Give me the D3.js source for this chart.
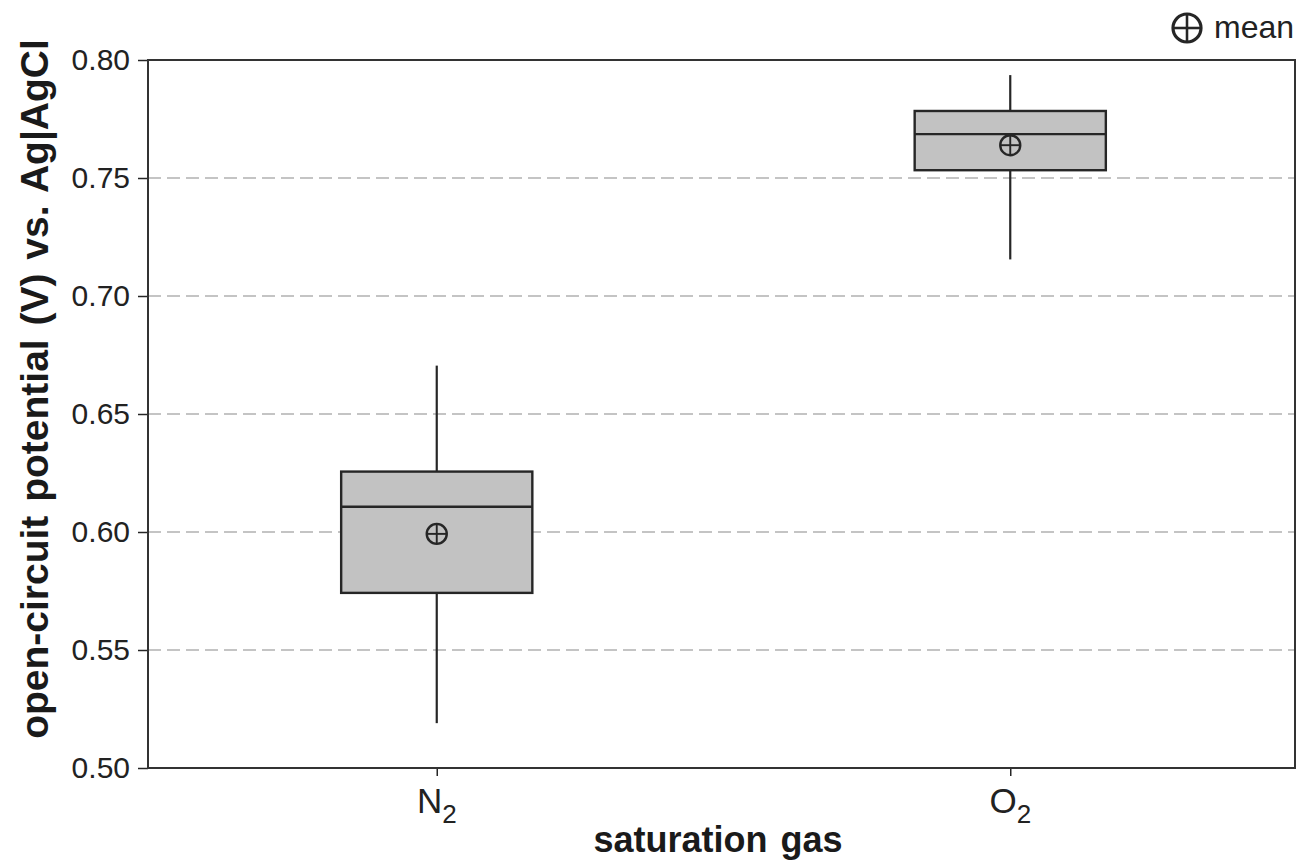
<!DOCTYPE html>
<html>
<head>
<meta charset="utf-8">
<script src="https://cdn.jsdelivr.net/npm/d3@7"></script>
<style>
  body { margin: 0; background: #fff; }
  text { font-family: "Liberation Sans", Arial, sans-serif; }
</style>
</head>
<body>
<div id="chart"></div>
<script>
// box statistics, one entry per saturation gas
const gases = ["N", "O"];
const gasSub = ["2", "2"];
const whiskerLow = [0.519, 0.7155];
const q1 = [0.5742, 0.7533];
const median = [0.6107, 0.7686];
const q3 = [0.6256, 0.7784];
const whiskerHigh = [0.6705, 0.7936];
const means = [0.5992, 0.7639];
const yTicks = [0.5, 0.55, 0.6, 0.65, 0.7, 0.75, 0.8];
const gridTicks = [0.55, 0.6, 0.65, 0.7, 0.75];

const width = 1300, height = 863;
const plotL = 148, plotR = 1295, plotT = 60, plotB = 768;
const ink = "#262626";

const svg = d3.select("#chart").append("svg")
  .attr("width", width).attr("height", height);

const y = d3.scaleLinear().domain([0.5, 0.8]).range([plotB, plotT]);
// categories sit a touch right of the exact half-step in the original
const x = d3.scalePoint().domain(gases).range([plotL + 2, plotR + 2]).padding(0.5);
const boxW = x.step() / 3;

// dashed grid
svg.append("g")
  .selectAll("line")
  .data(gridTicks)
  .join("line")
  .attr("x1", plotL).attr("x2", plotR)
  .attr("y1", d => y(d)).attr("y2", d => y(d))
  .attr("stroke", "#c4c4c4")
  .attr("stroke-width", 2)
  .attr("stroke-dasharray", "13,6");

const boxes = gases.map((g, i) => ({
  g, lo: whiskerLow[i], q1: q1[i], med: median[i], q3: q3[i], hi: whiskerHigh[i], mean: means[i]
}));

const box = svg.append("g")
  .selectAll("g")
  .data(boxes)
  .join("g")
  .attr("transform", d => `translate(${x(d.g)},0)`);

// whiskers
box.append("line")
  .attr("y1", d => y(d.hi)).attr("y2", d => y(d.q3))
  .attr("stroke", ink).attr("stroke-width", 2.2);
box.append("line")
  .attr("y1", d => y(d.q1)).attr("y2", d => y(d.lo))
  .attr("stroke", ink).attr("stroke-width", 2.2);

box.append("rect")
  .attr("x", -boxW / 2)
  .attr("width", boxW)
  .attr("y", d => y(d.q3))
  .attr("height", d => y(d.q1) - y(d.q3))
  .attr("fill", "#c2c2c2")
  .attr("stroke", ink)
  .attr("stroke-width", 2.4);

box.append("line")
  .attr("x1", -boxW / 2).attr("x2", boxW / 2)
  .attr("y1", d => y(d.med)).attr("y2", d => y(d.med))
  .attr("stroke", ink).attr("stroke-width", 2.4);

// mean symbol (circle with cross)
const meanMark = (sel, r, sw) => {
  sel.append("circle").attr("r", r).attr("fill", "none")
    .attr("stroke", ink).attr("stroke-width", sw);
  sel.append("line").attr("x1", -r).attr("x2", r)
    .attr("stroke", ink).attr("stroke-width", sw * 0.8);
  sel.append("line").attr("y1", -r).attr("y2", r)
    .attr("stroke", ink).attr("stroke-width", sw * 0.8);
};
box.append("g")
  .attr("transform", d => `translate(0,${y(d.mean)})`)
  .call(meanMark, 10, 2.4);

// axes
const yAxis = svg.append("g")
  .attr("transform", `translate(${plotL},0)`)
  .call(d3.axisLeft(y).tickValues(yTicks).tickSize(10).tickPadding(8)
    .tickFormat(d3.format(".2f")));
yAxis.select(".domain").remove();
yAxis.selectAll(".tick line").attr("stroke", ink).attr("stroke-width", 1.5);
yAxis.selectAll(".tick text")
  .attr("font-size", 30).attr("fill", "#222")
  .attr("font-family", "Liberation Sans, Arial, sans-serif");

const xAxis = svg.append("g")
  .attr("transform", `translate(0,${plotB})`)
  .call(d3.axisBottom(x).tickSize(8).tickFormat(""));
xAxis.select(".domain").remove();
xAxis.selectAll(".tick line").attr("stroke", ink).attr("stroke-width", 1.5);

const xl = svg.append("g")
  .selectAll("text")
  .data(gases)
  .join("text")
  .attr("x", d => x(d))
  .attr("y", 813)
  .attr("text-anchor", "middle")
  .attr("font-size", 35)
  .attr("fill", "#222");
xl.append("tspan").text(d => d);
xl.append("tspan").text((d, i) => gasSub[i])
  .attr("font-size", 26).attr("dy", 10);

// frame
svg.append("rect")
  .attr("x", plotL).attr("y", plotT)
  .attr("width", plotR - plotL).attr("height", plotB - plotT)
  .attr("fill", "none").attr("stroke", "#333").attr("stroke-width", 2);

// axis titles
svg.append("text")
  .attr("transform", `translate(48,389) rotate(-90)`)
  .attr("text-anchor", "middle")
  .attr("font-size", 39)
  .attr("font-weight", "bold")
  .attr("word-spacing", 3)
  .attr("fill", "#1a1a1a")
  .text("open-circuit potential (V) vs. Ag|AgCl");

svg.append("text")
  .attr("x", 718).attr("y", 852)
  .attr("text-anchor", "middle")
  .attr("font-size", 36)
  .attr("font-weight", "bold")
  .attr("word-spacing", 3)
  .attr("fill", "#1a1a1a")
  .text("saturation gas");

// legend
const lg = svg.append("g").attr("transform", "translate(1187,28)");
lg.call(meanMark, 14, 3.2);
svg.append("text")
  .attr("x", 1214).attr("y", 38)
  .attr("font-size", 32)
  .attr("fill", "#222")
  .text("mean");
</script>
</body>
</html>
